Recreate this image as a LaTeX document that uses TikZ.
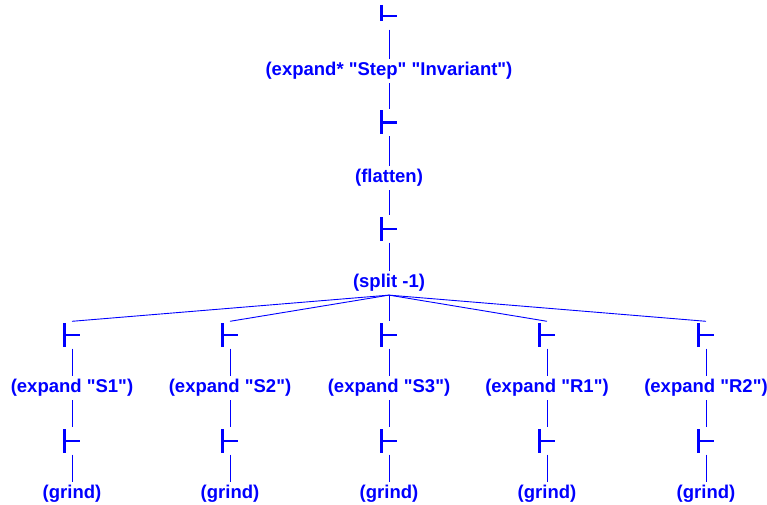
\documentclass[tikz,border=0pt]{standalone}
\usepackage{fontspec}
\newfontfamily\labfont[Ligatures=TeXOff]{Liberation Sans}
\begin{document}
\begin{tikzpicture}[x=1pt,y=-1pt,
  lbl/.style={text=blue, font=\labfont\fontsize{18.5}{22}\selectfont\bfseries, inner sep=3.3pt},
  turn/.style={inner sep=0pt, minimum width=20pt, minimum height=27pt},
  conn/.style={draw=blue, line width=0.9pt},
  glyph/.style={draw=blue, line width=2.6pt}]
\useasboundingbox (0,0) rectangle (767,505);
% main spine
\node[turn] (t0) at (389,16) {};
\node[lbl] (e0) at (389,71) {(expand* "Step" "Invariant")};
\node[turn] (t1) at (389,122.5) {};
\node[lbl] (fl) at (389,178) {(flatten)};
\node[turn] (t2) at (389,229) {};
\node[lbl] (sp) at (389,283) {(split -1)};
% children
\foreach \i/\x/\t in {1/72/S1,2/230/S2,3/389/S3,4/547/R1,5/706/R2}{
  \node[turn] (a\i) at (\x,335) {};
  \node[lbl] (x\i) at (\x,388) {(expand "\t")};
  \node[turn] (b\i) at (\x,441) {};
  \node[lbl] (g\i) at (\x,494) {(grind)};
}
% turnstile glyphs
\draw[glyph] ([shift={(-7.5pt,11pt)}]t0.center) -- ([shift={(-7.5pt,-5pt)}]t0.center);
\draw[glyph] ([xshift=-7.5pt]t0.center) -- ([xshift=8pt]t0.center);
\foreach \n in {t1,t2,a1,a2,a3,a4,a5,b1,b2,b3,b4,b5}{
  \draw[glyph] ([shift={(-7.5pt,12pt)}]\n.center) -- ([shift={(-7.5pt,-12pt)}]\n.center);
  \draw[glyph] ([xshift=-7.5pt]\n.center) -- ([xshift=8pt]\n.center);
}
% connectors
\draw[conn] (t0.south) -- (e0.north);
\draw[conn] (e0.south) -- (t1.north);
\draw[conn] (t1.south) -- (fl.north);
\draw[conn] (fl.south) -- (t2.north);
\draw[conn] (t2.south) -- (sp.north);
\foreach \i in {1,...,5}{
  \draw[conn] (sp.south) -- (a\i.north);
  \draw[conn] (a\i.south) -- (x\i.north);
  \draw[conn] (x\i.south) -- (b\i.north);
  \draw[conn] (b\i.south) -- (g\i.north);
}
\end{tikzpicture}
\end{document}
